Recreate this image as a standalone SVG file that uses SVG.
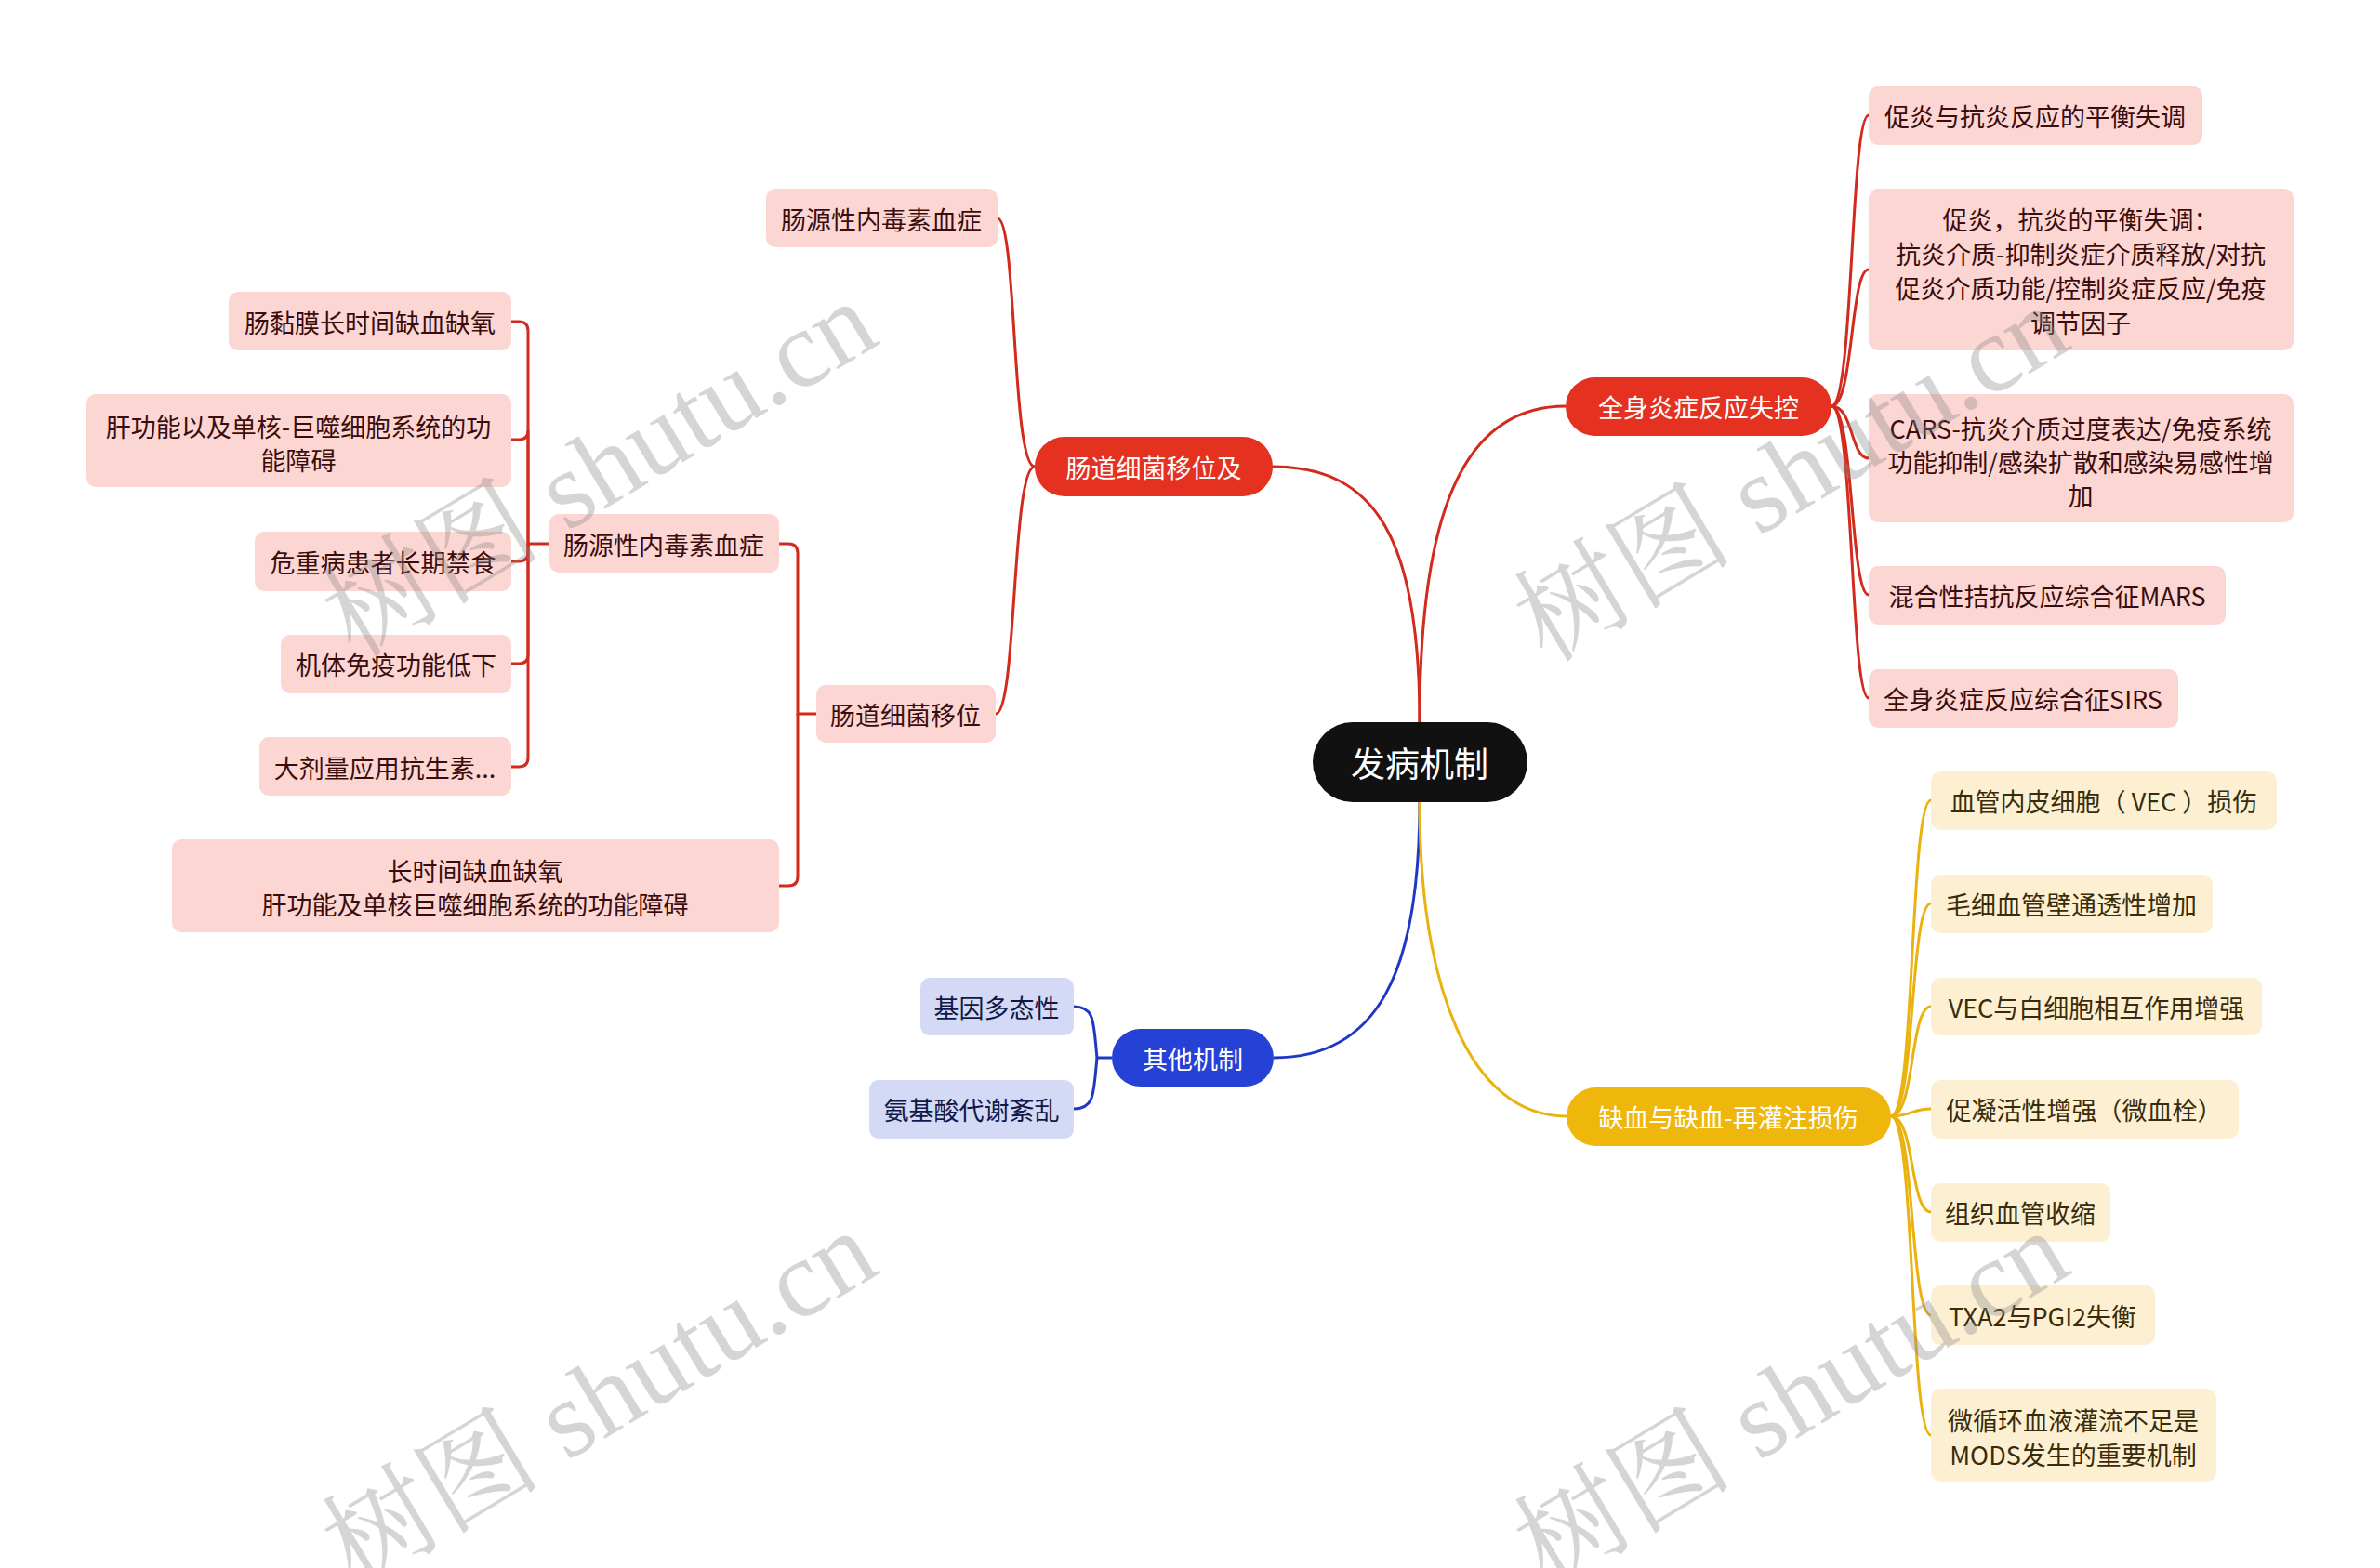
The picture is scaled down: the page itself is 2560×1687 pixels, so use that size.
<svg xmlns="http://www.w3.org/2000/svg" width="2560" height="1687" viewBox="0 0 2560 1687">
<style>
text{font-family:"Noto Sans CJK SC","Noto Sans",sans-serif;text-anchor:middle;dominant-baseline:central}
.pk rect{fill:#fcd6d3}
.pk text{fill:#3b0c0c;font-size:27px}
.yl rect{fill:#fdf0d2}
.yl text{fill:#3a2c0a;font-size:27px}
.bl rect{fill:#d4daf6}
.bl text{fill:#101848;font-size:27px}
.main text{fill:#fff;font-size:27px}
.red rect{fill:#e5311f}
.lr{fill:none;stroke:#d22a1c;stroke-width:3}
.lb{fill:none;stroke:#1f38c4;stroke-width:3}
.ly{fill:none;stroke:#e9b20e;stroke-width:3}
.wm{font-family:"Liberation Serif","Noto Serif CJK SC","Noto Sans CJK SC",serif;font-size:118px;fill:#888;opacity:0.35}
</style>
<rect width="2560" height="1687" fill="#fff"/>
<g id="connectors">
<path class="lr" d="M1527,777 C1527,580 1480,502 1369,502"/>
<path class="lr" d="M1527,777 C1527,560 1570,437 1684,437"/>
<path class="lb" d="M1527,863 C1527,1050 1480,1138 1370,1138"/>
<path class="ly" d="M1527,863 C1527,1060 1580,1201 1685,1201"/>
<path class="lr" d="M1970,437 C1994,437 1990,124 2010,124"/>
<path class="lr" d="M1970,437 C1994,437 1990,290 2010,290"/>
<path class="lr" d="M1970,437 C1994,437 1990,493 2010,493"/>
<path class="lr" d="M1970,437 C1994,437 1990,640 2010,640"/>
<path class="lr" d="M1970,437 C1994,437 1990,751 2010,751"/>
<path class="ly" d="M2034,1201 C2060,1201 2054,861 2077,861"/>
<path class="ly" d="M2034,1201 C2060,1201 2054,972 2077,972"/>
<path class="ly" d="M2034,1201 C2060,1201 2054,1083 2077,1083"/>
<path class="ly" d="M2034,1201 C2056,1201 2056,1193 2077,1193"/>
<path class="ly" d="M2034,1201 C2060,1201 2054,1304 2077,1304"/>
<path class="ly" d="M2034,1201 C2060,1201 2054,1415 2077,1415"/>
<path class="ly" d="M2034,1201 C2060,1201 2054,1544 2077,1544"/>
<path class="lr" d="M1113,502 C1088,502 1094,235 1073,235"/>
<path class="lr" d="M1113,502 C1088,502 1094,768 1071,768"/>
<path class="lr" d="M878,768 H858 V595 Q858,585 848,585 H838"/>
<path class="lr" d="M858,768 V943 Q858,953 848,953 H838"/>
<path class="lr" d="M591,585 H568 V356 Q568,346 558,346 H550"/>
<path class="lr" d="M568,585 V463 Q568,473 558,473 H550"/>
<path class="lr" d="M568,585 V594 Q568,604 558,604 H550"/>
<path class="lr" d="M568,585 V704 Q568,714 558,714 H550"/>
<path class="lr" d="M568,585 V815 Q568,825 558,825 H550"/>
<path class="lb" d="M1196,1138 H1180 C1176,1100 1178,1083 1155,1083"/>
<path class="lb" d="M1180,1138 C1176,1176 1178,1193 1155,1193"/>
</g>
<g id="root"><rect x="1412" y="777" width="231" height="86" rx="43" fill="#111"/><text x="1527" y="820" font-size="37" fill="#fff">发病机制</text></g>
<g id="n-gut" class="main red"><rect x="1113" y="470" width="256" height="64" rx="32"/><text x="1241" y="502">肠道细菌移位及</text></g>
<g id="n-sirs" class="main red"><rect x="1684" y="406" width="286" height="63" rx="31.5"/><text x="1827" y="437">全身炎症反应失控</text></g>
<g id="n-isch" class="main"><rect x="1685" y="1170" width="349" height="63" rx="31.5" fill="#efb70c"/><text x="1859" y="1201" fill="#2a1e00">缺血与缺血-再灌注损伤</text></g>
<g id="n-other" class="main"><rect x="1196" y="1107" width="174" height="62" rx="31" fill="#2541d6"/><text x="1283" y="1138">其他机制</text></g>
<g id="r1" class="pk"><rect x="2010" y="93" width="359" height="63" rx="10"/><text x="2189" y="124">促炎与抗炎反应的平衡失调</text></g>
<g id="r2" class="pk"><rect x="2010" y="203" width="457" height="174" rx="10"/><text x="2238" y="235">促炎，抗炎的平衡失调：</text><text x="2238" y="272">抗炎介质-抑制炎症介质释放/对抗</text><text x="2238" y="309">促炎介质功能/控制炎症反应/免疫</text><text x="2238" y="346">调节因子</text></g>
<g id="r3" class="pk"><rect x="2010" y="424" width="457" height="138" rx="10"/><text x="2238" y="460">CARS-抗炎介质过度表达/免疫系统</text><text x="2238" y="496">功能抑制/感染扩散和感染易感性增</text><text x="2238" y="532">加</text></g>
<g id="r4" class="pk"><rect x="2010" y="609" width="384" height="63" rx="10"/><text x="2202" y="640">混合性拮抗反应综合征MARS</text></g>
<g id="r5" class="pk"><rect x="2010" y="720" width="333" height="63" rx="10"/><text x="2176" y="751">全身炎症反应综合征SIRS</text></g>
<g id="y1" class="yl"><rect x="2077" y="830" width="372" height="63" rx="10"/><text x="2263" y="861">血管内皮细胞（ VEC ）损伤</text></g>
<g id="y2" class="yl"><rect x="2077" y="941" width="303" height="63" rx="10"/><text x="2228" y="972">毛细血管壁通透性增加</text></g>
<g id="y3" class="yl"><rect x="2077" y="1052" width="356" height="62" rx="10"/><text x="2255" y="1083">VEC与白细胞相互作用增强</text></g>
<g id="y4" class="yl"><rect x="2077" y="1162" width="331" height="63" rx="10"/><text x="2242" y="1193">促凝活性增强（微血栓）</text></g>
<g id="y5" class="yl"><rect x="2077" y="1273" width="193" height="63" rx="10"/><text x="2173" y="1304">组织血管收缩</text></g>
<g id="y6" class="yl"><rect x="2077" y="1383" width="241" height="64" rx="10"/><text x="2197" y="1415">TXA2与PGI2失衡</text></g>
<g id="y7" class="yl"><rect x="2077" y="1494" width="307" height="100" rx="10"/><text x="2230" y="1527">微循环血液灌流不足是</text><text x="2230" y="1564">MODS发生的重要机制</text></g>
<g id="b1" class="bl"><rect x="990" y="1052" width="165" height="62" rx="10"/><text x="1072" y="1083">基因多态性</text></g>
<g id="b2" class="bl"><rect x="935" y="1162" width="220" height="63" rx="10"/><text x="1045" y="1193">氨基酸代谢紊乱</text></g>
<g id="l1" class="pk"><rect x="824" y="203" width="249" height="63" rx="10"/><text x="948" y="235">肠源性内毒素血症</text></g>
<g id="l2" class="pk"><rect x="878" y="737" width="193" height="62" rx="10"/><text x="974" y="768">肠道细菌移位</text></g>
<g id="l3" class="pk"><rect x="591" y="553" width="247" height="63" rx="10"/><text x="714" y="585">肠源性内毒素血症</text></g>
<g id="l4" class="pk"><rect x="185" y="903" width="653" height="100" rx="10"/><text x="511" y="936">长时间缺血缺氧</text><text x="511" y="972">肝功能及单核巨噬细胞系统的功能障碍</text></g>
<g id="l5" class="pk"><rect x="246" y="314" width="304" height="63" rx="10"/><text x="398" y="346">肠黏膜长时间缺血缺氧</text></g>
<g id="l6" class="pk"><rect x="93" y="424" width="457" height="100" rx="10"/><text x="321" y="458">肝功能以及单核-巨噬细胞系统的功</text><text x="321" y="494">能障碍</text></g>
<g id="l7" class="pk"><rect x="274" y="572" width="276" height="64" rx="10"/><text x="412" y="604">危重病患者长期禁食</text></g>
<g id="l8" class="pk"><rect x="302" y="683" width="248" height="63" rx="10"/><text x="426" y="714">机体免疫功能低下</text></g>
<g id="l9" class="pk"><rect x="279" y="793" width="271" height="63" rx="10"/><text x="414" y="825">大剂量应用抗生素...</text></g>
<g id="watermark">
<text class="wm" transform="translate(645,505) rotate(-31)">树图 shutu.cn</text>
<text class="wm" transform="translate(1927,510) rotate(-31)">树图 shutu.cn</text>
<text class="wm" transform="translate(645,1505) rotate(-31)">树图 shutu.cn</text>
<text class="wm" transform="translate(1927,1505) rotate(-31)">树图 shutu.cn</text>
</g>
</svg>
